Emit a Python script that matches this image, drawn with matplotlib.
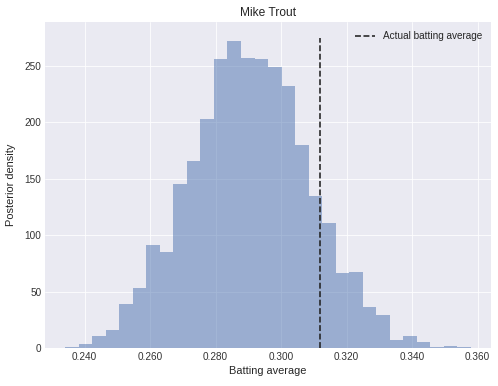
import numpy as np
import matplotlib
matplotlib.use("Agg")
import matplotlib.pyplot as plt

plt.style.use("seaborn-v0_8-darkgrid")
plt.rcParams["font.family"] = ["Liberation Sans", "DejaVu Sans"]

# posterior samples histogram (counts)
bin_start = 0.2341
bin_end = 0.3579
counts = [1, 4, 11, 16, 39, 53, 91, 85, 145, 166,
          203, 256, 272, 257, 256, 249, 232, 180, 135, 111,
          66, 67, 36, 29, 7, 11, 5, 1, 2, 1]
actual_avg = 0.312
line_top = 275

edges = np.linspace(bin_start, bin_end, len(counts) + 1)
centers = (edges[:-1] + edges[1:]) / 2

fig = plt.figure(figsize=(498 / 72, 386 / 72), dpi=72)
ax = fig.add_axes([0.0904, 0.0984, 0.8956, 0.8446])

ax.hist(centers, bins=edges, weights=counts, color="#4C72B0", alpha=0.5)
ax.vlines(actual_avg, 0, line_top, colors="#222222", linestyles="--",
          linewidth=1.6, label="Actual batting average")

ax.set_title("Mike Trout", fontsize=12)
ax.set_xlabel("Batting average", fontsize=11)
ax.set_ylabel("Posterior density", fontsize=11, labelpad=9)
ax.tick_params(labelsize=10, colors="#333333")
ax.xaxis.set_major_formatter(matplotlib.ticker.FormatStrFormatter("%.3f"))
ax.legend(loc="upper right", fontsize=10, frameon=False)

fig.savefig("out.png", dpi=72)
